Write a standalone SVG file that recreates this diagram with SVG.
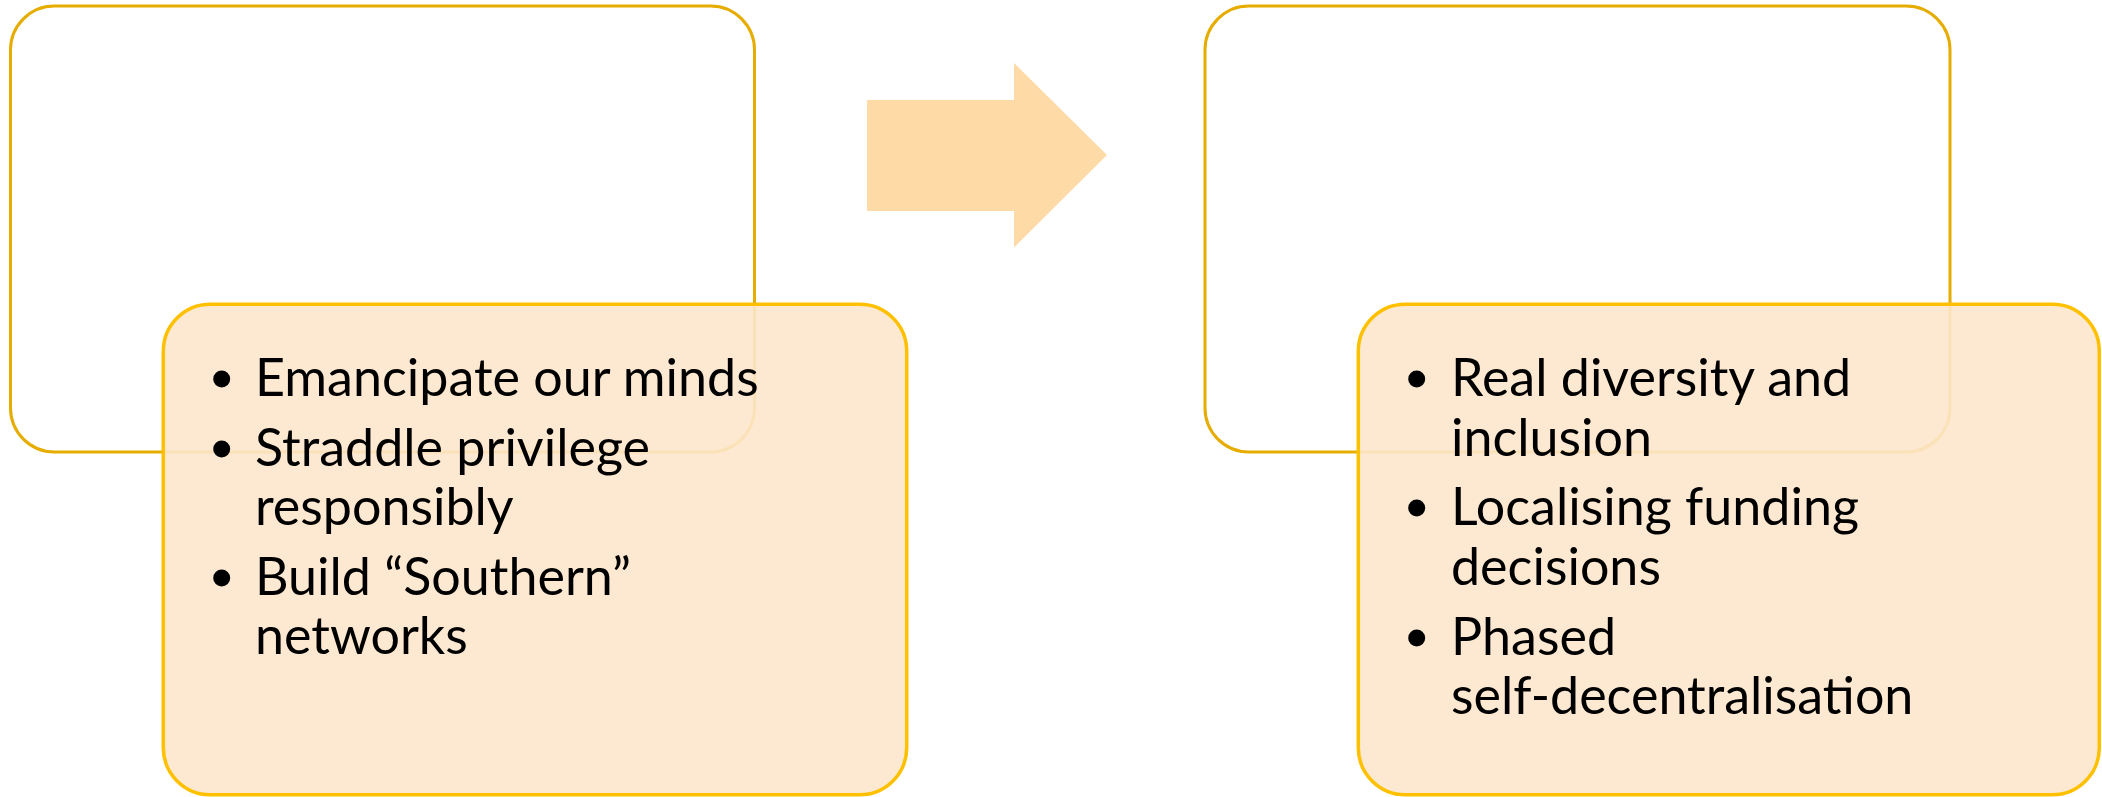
<svg xmlns="http://www.w3.org/2000/svg" width="2102" height="797" viewBox="0 0 2102 797">
<style>
.outer{fill:#FFFFFF;stroke:#E6AC00;stroke-width:3}
.inner{fill:#FDE7CC;fill-opacity:0.9;stroke:#FFC000;stroke-width:3.5}
.t{font-family:Lato,"Open Sans",sans-serif;font-size:52px;fill:#000}
.b{fill:#000}
</style>
<rect width="2102" height="797" fill="#FFFFFF"/>
<g id="left-outer"><rect class="outer" x="10.5" y="6" width="744" height="446" rx="44" ry="44"/></g>
<g id="right-outer"><rect class="outer" x="1205" y="6" width="745" height="446" rx="44" ry="44"/></g>
<g id="connectors">
<polygon points="867,100 1014,100 1014,63 1107,155 1014,247.5 1014,211 867,211" fill="#FDDAA6"/>
</g>
<g id="left-inner">
<rect class="inner" x="163.3" y="304.3" width="743.4" height="490.4" rx="47" ry="47"/>
<circle class="b" cx="221.7" cy="379" r="8.5"/>
<circle class="b" cx="221.7" cy="449" r="8.5"/>
<circle class="b" cx="221.7" cy="578" r="8.5"/>
<text class="t" x="255" y="396">Emancipate our minds</text>
<text class="t" x="255" y="466">Straddle privilege</text>
<text class="t" x="255" y="524.5">responsibly</text>
<text class="t" x="255" y="595">Build “Southern”</text>
<text class="t" x="255" y="654">networks</text>
</g>
<g id="right-inner">
<rect class="inner" x="1358.3" y="304.3" width="741" height="490.4" rx="47" ry="47"/>
<circle class="b" cx="1416.7" cy="379" r="8.5"/>
<circle class="b" cx="1416.7" cy="508" r="8.5"/>
<circle class="b" cx="1416.7" cy="638" r="8.5"/>
<text class="t" x="1451" y="396">Real diversity and</text>
<text class="t" x="1451" y="456">inclusion</text>
<text class="t" x="1451" y="525">Localising funding</text>
<text class="t" x="1451" y="585">decisions</text>
<text class="t" x="1451" y="655">Phased</text>
<text class="t" x="1451" y="714">self-decentralisation</text>
</g>
</svg>
